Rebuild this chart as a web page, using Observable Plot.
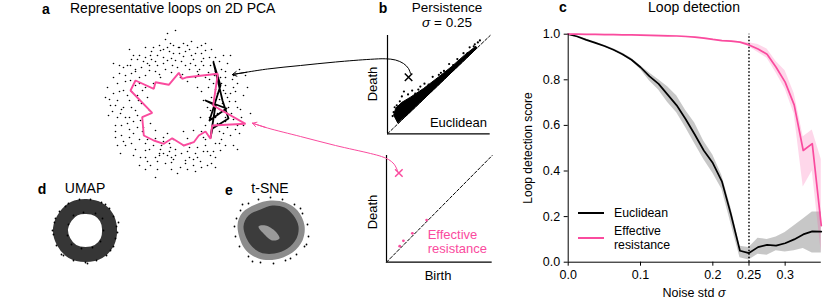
<!DOCTYPE html>
<html><head><meta charset="utf-8">
<script src="https://cdn.jsdelivr.net/npm/d3@7"></script>
<script src="https://cdn.jsdelivr.net/npm/@observablehq/plot@0.6"></script>
<style>
html,body{margin:0;padding:0;background:#fff;}
#fig{position:relative;width:830px;height:302px;overflow:hidden;font-family:"Liberation Sans",Arial,sans-serif;color:#000;}
.p{position:absolute;}
.p svg{overflow:visible;display:block;max-width:none;}
.t{position:absolute;white-space:nowrap;line-height:1;font-size:14px;}
.t i{font-style:italic;line-height:1;}
</style></head><body><div id="fig"></div>
<script>
const PINK = "#fa4b9e";
const FONT = '"Liberation Sans",Arial,sans-serif';

// ---------- Panel c data ----------
const sigma = [0,0.0125,0.025,0.0375,0.05,0.0625,0.075,0.0875,0.1,0.1125,0.125,0.1375,0.15,0.1625,0.175,0.1875,0.2,0.2125,0.225,0.2375,0.25,0.2625,0.275,0.2875,0.3,0.3125,0.325,0.3375,0.35];
const euclid   = [1.0,0.99,0.975,0.962,0.948,0.932,0.912,0.888,0.855,0.815,0.782,0.735,0.688,0.627,0.56,0.49,0.435,0.355,0.21,0.05,0.04,0.066,0.076,0.073,0.083,0.1,0.122,0.135,0.134];
const euclidLo = [1.0,0.988,0.972,0.958,0.944,0.928,0.907,0.882,0.845,0.795,0.755,0.7,0.655,0.59,0.52,0.45,0.39,0.32,0.17,0.02,0.01,0.035,0.03,0.05,0.045,0.05,0.06,0.04,0.04];
const euclidHi = [1.0,0.992,0.978,0.966,0.952,0.936,0.917,0.894,0.862,0.83,0.8,0.77,0.73,0.665,0.61,0.53,0.47,0.38,0.24,0.07,0.065,0.105,0.1,0.11,0.13,0.16,0.19,0.22,0.22];
const effRes   = [1.0,1.0,0.999,0.999,0.998,0.998,0.997,0.997,0.996,0.995,0.994,0.993,0.992,0.99,0.987,0.983,0.977,0.972,0.97,0.965,0.953,0.935,0.912,0.855,0.79,0.69,0.49,0.52,0.16];
const effResLo = [1.0,0.998,0.997,0.997,0.996,0.996,0.995,0.995,0.994,0.993,0.992,0.991,0.99,0.988,0.985,0.981,0.975,0.97,0.968,0.962,0.945,0.92,0.895,0.83,0.76,0.65,0.33,0.40,0.04];
const effResHi = [1.0,1.0,1.0,1.0,1.0,1.0,0.999,0.999,0.998,0.997,0.996,0.995,0.994,0.992,0.989,0.985,0.979,0.974,0.972,0.967,0.962,0.955,0.935,0.88,0.84,0.74,0.55,0.58,0.45];
const xTicks = [0,0.1,0.2,0.25,0.3];
const xTickLabels = ["0.0","0.1","0.2","0.25","0.3"];
const yTicks = [0,0.2,0.4,0.6,0.8,1.0];
const yTickLabels = ["0.0","0.2","0.4","0.6","0.8","1.0"];
const threshold = [0.25];

// ---------- Panel a data (2D PCA, px-like units around centre) ----------
const pcaPts = [
[-5,62],[3,58],[12,60],[-15,55],[20,52],[-25,50],[8,49],[28,47],[-8,45],[-32,44],[15,42],[35,40],[-18,40],[2,38],[24,36],[-40,36],[-2,52],[10,54],[-12,48],[30,55],[-22,58],[40,48],[18,46],[-28,42],[6,44],[-36,50],[26,60],[-10,66],[14,36],[-4,33],[33,33],[-45,40],[44,44],[-20,34],[0,45],[20,40],
[45,28],[50,20],[55,12],[60,4],[48,-6],[58,-14],[52,-22],[62,22],[42,12],[38,22],[65,-4],[47,2],[55,-30],[40,-12],[44,-26],[58,30],[36,8],[62,-20],[50,34],[68,10],[30,28],[35,-5],[53,-2],[42,-18],[48,15],[66,-12],[39,30],[57,26],
[30,-40],[20,-48],[10,-55],[0,-50],[-10,-58],[-20,-52],[-30,-45],[25,-56],[15,-38],[-5,-42],[-15,-44],[35,-50],[5,-62],[-25,-60],[40,-38],[-35,-52],[28,-32],[12,-46],[-2,-34],[18,-60],[-12,-36],[-22,-40],[8,-40],[2,-68],[-8,-50],[32,-60],[22,-42],[-28,-34],[45,-45],[-18,-64],[14,-52],[-4,-57],
[-45,25],[-52,15],[-58,5],[-55,-8],[-48,-18],[-42,-28],[-60,-20],[-38,10],[-35,-15],[-62,12],[-50,30],[-40,-5],[-65,0],[-46,5],[-54,-30],[-36,22],[-44,-38],[-58,22],[-32,-22],[-50,-12],[-67,-10],[-40,34],[-52,-2],[-30,30],[-60,-32],[-48,40],[-34,2],[-56,32],
[22,18],[-22,22],[18,-25],[-25,-18],[28,5],[-28,8],[5,28],[-8,-28],[25,-12],[-20,-25],[12,24],[-26,-5],[30,-20],[-15,28],[8,-26],[26,14],[-30,18],[20,28],[-12,-32],[32,-2],
[-70,8],[72,18],[0,75],[-20,-72],[55,50],[-55,-48],[62,-44],[-62,42],[75,-8],[-8,72],[40,-62],[70,30],
[-3,40],[7,31],[-16,31],[23,31],[33,18],[38,0],[34,-12],[26,-26],[12,-33],[-6,-38],[-20,-33],[-33,-26],[-38,-10],[-37,5],[-33,15],[-26,35],[-12,42],[4,58],[-30,58],[36,56],[52,42],[60,14],[64,-28],[50,-40],[36,-58],[12,-64],[-12,-48],[-36,-60],[-50,-40],[-63,-6],[-56,40],[-42,50],[-16,60],[16,64],[46,36],[44,-4],[28,-46],[-4,-64],[-46,-24],[-44,14],
[-10,36],[16,50],[-24,46],[28,40],[40,34],[46,22],[52,8],[56,-8],[50,-16],[46,-34],[38,-46],[22,-52],[6,-48],[-6,-46],[-18,-56],[-30,-52],[-40,-44],[-46,-32],[-54,-20],[-58,-12],[-60,0],[-56,14],[-50,24],[-44,32],[-34,38],[-20,44],[-6,54],[8,62],[22,58],[34,48],
[-2,60],[14,56],[26,52],[38,44],[50,28],[58,18],[62,-2],[60,-24],[48,-28],[40,-52],[26,-62],[10,-58],[-4,-52],[-16,-50],[-28,-56],[-42,-50],[-52,-36],[-60,-26],[-66,6],[-62,28],[-52,38],[-38,46],[-24,54],[-8,58],
[-40,20],[-44,-2],[-42,-16],[-36,-34],[-26,-44],[-14,-40],[0,-44],[14,-42],[30,-34],[38,-22],[42,-8],[44,6],[40,16],[34,26],[22,34],[10,40],[-4,47],[-18,50],[-30,48],
[-36,28],[-48,10],[-54,-4],[-46,-12],[-38,-22],[-30,-38],[-16,-48],[-2,-54],[18,-54],[32,-46],[44,-38],[50,-12],[54,4],[50,12],[42,28],[26,44],[4,52],[-12,56],[-26,40],[-44,46],[30,62],[48,50],[64,36],[68,-20],[58,-40],[20,-66],[-30,-64],[-58,-40],[-68,18],[-46,56]
];
const pinkLoop = [[-40,25],[-21.7,16.7],[-20,23.3],[-6.7,20.7],[3.3,32.7],[6.7,26.7],[11.7,28.3],[42.3,31.7],[37.7,0],[70,-18.3],[36.7,-20],[35,-33.3],[30,-26],[23.3,-30],[18.3,-36.7],[8.3,-40],[-3.3,-32.7],[-11.7,-38.3],[-21.7,-35],[-31.7,-30],[-33.3,-11.7],[-23.3,-7.3],[-45,15]];
const blackLoop = [[38,43],[47,5],[53,-13],[37,-23],[35,-32],[40,0],[30,5],[51,-3],[34,-15],[45,20],[38,43]];

// ---------- Panel b data ----------
const diag = [[0,0],[1,1]];
const eucCore = [[0.1,0.11],[0.06,0.19],[0.08,0.26],[0.14,0.32],[0.22,0.37],[0.35,0.46],[0.5,0.58],[0.62,0.68],[0.75,0.8],[0.86,0.89],[0.87,0.87],[0.5,0.5],[0.2,0.2]];
const eucPts = [[0.06,0.22],[0.05,0.18],[0.09,0.29],[0.12,0.33],[0.14,0.38],[0.2,0.4],[0.24,0.44],[0.27,0.41],[0.32,0.48],[0.36,0.51],[0.4,0.5],[0.44,0.58],[0.5,0.6],[0.55,0.64],[0.6,0.71],[0.64,0.7],[0.68,0.76],[0.74,0.82],[0.78,0.82],[0.8,0.88],[0.85,0.91],[0.88,0.93],[0.9,0.95],[0.84,0.89],[0.16,0.43],[0.07,0.27],[0.11,0.16],[0.52,0.62],[0.3,0.45],[0.7,0.74]];
const eucMark = [[0.205,0.576]];
const erPts = [[0.125,0.15],[0.16,0.2],[0.245,0.27],[0.38,0.395]];
const erMark = [[0.117,0.836]];

// ---------- Panels d, e data ----------
const umapRing = [[24,2],[21,13],[13,21],[1,24],[-11,22],[-20,14],[-25,2],[-22,-11],[-13,-21],[0,-24],[13,-21],[22,-11]];
const umapEdge = [[31,4],[30,-8],[28,14],[24,22],[16,28],[5,31],[-6,31],[-17,27],[-26,19],[-31,8],[-32,-4],[-29,-15],[-22,-25],[-12,-30],[0,-32],[11,-30],[21,-25],[28,-16],[32,-2],[-30,12],[17,12],[10,17],[-2,18],[-12,15],[-17,6],[-18,-5],[-14,-14],[-4,-18],[7,-17],[15,-11],[18,0],[33,8],[-33,0],[2,-33],[25,-20],[-24,-24],[20,26],[-20,24]];
const tsneOutline = [[-33,5],[-28,18],[-15,26],[0,30],[15,28],[27,20],[34,5],[32,-10],[22,-22],[5,-29],[-12,-28],[-26,-18]];
const tsneCore = [[-27,4],[-22,15],[-10,21],[2,25],[14,23],[23,15],[28,4],[26,-8],[17,-18],[4,-23],[-10,-22],[-21,-13]];
const tsneHole = [[-12,4],[-5,5],[5,-1],[9,-8],[2,-10],[-7,-3]];
const tsneEdge = [[-36,4],[-34,12],[-30,20],[-22,27],[-12,31],[0,33],[12,31],[24,26],[32,17],[37,6],[38,-6],[34,-16],[26,-24],[15,-30],[3,-33],[-10,-32],[-22,-26],[-31,-16],[-35,-6],[-28,26],[30,22],[36,-14],[-18,-31],[20,-28]];

// ---------- connector arrows (figure coordinates) ----------
const arrowEuc = [[410,73],[408,68],[403,63],[395,59.5],[385,58.3],[370,58.8],[335,61.5],[300,65],[267,68.5],[232,74]];
const arrowEr = [[397,170],[393.5,163.5],[388,159],[381,156],[370,153],[335,145],[300,136],[267,127.5],[252,122.7]];
const arrowHeads = [{x1:246,y1:71.8,x2:232,y2:74,c:"#000"},{x1:265,y1:126.9,x2:252,y2:122.7,c:PINK}];

// ---------- helpers ----------
const fig = document.getElementById("fig");
function place(svg, left, top){
  const d = document.createElement("div"); d.className="p";
  d.style.left = left+"px"; d.style.top = top+"px";
  d.appendChild(svg); fig.appendChild(d); return d;
}
function txt(html, x, y, o={}){
  const d = document.createElement("div"); d.className="t"; d.innerHTML = html;
  d.style.left = x+"px"; d.style.top = y+"px";
  if (o.size) d.style.fontSize = o.size+"px";
  if (o.bold) d.style.fontWeight = "bold";
  if (o.color) d.style.color = o.color;
  const ax = o.anchor==="start" ? "0" : o.anchor==="end" ? "-100%" : "-50%";
  d.style.transform = `translate(${ax},-50%)` + (o.rotate ? " rotate(-90deg)" : "");
  fig.appendChild(d);
}
const baseStyle = {fontFamily: FONT, background: "transparent", color: "#000", overflow: "visible"};
const X = d=>d[0], Y = d=>d[1];

// ---------- Panel c ----------
const cData = sigma.map((s,i)=>({s, eu:euclid[i], euLo:euclidLo[i], euHi:euclidHi[i], er:effRes[i], erLo:effResLo[i], erHi:effResHi[i]}));
const pc = Plot.plot({
  width:330, height:302, marginLeft:67.7, marginRight:9.2, marginTop:33.7, marginBottom:40.3,
  style:{...baseStyle, fontSize:"12.5px"},
  x:{domain:[0,0.35], ticks:xTicks, tickFormat:d=>xTickLabels[xTicks.indexOf(d)], tickSize:4, tickPadding:4, label:null},
  y:{domain:[0,1], ticks:yTicks, tickFormat:d=>yTickLabels[yTicks.indexOf(d)], tickSize:4, tickPadding:4, label:null},
  marks:[
    Plot.areaY(cData,{x:"s", y1:"euLo", y2:"euHi", fill:"#000", fillOpacity:0.22}),
    Plot.areaY(cData,{x:"s", y1:"erLo", y2:"erHi", fill:PINK, fillOpacity:0.22}),
    Plot.ruleX(threshold,{y1:0, y2:1, stroke:"#000", strokeWidth:1.5, strokeDasharray:"1.5,2"}),
    Plot.lineY(cData,{x:"s", y:"eu", stroke:"#000", strokeWidth:1.7}),
    Plot.lineY(cData,{x:"s", y:"er", stroke:PINK, strokeWidth:1.7}),
    Plot.ruleX([0],{stroke:"#000"}),
    Plot.ruleY([0],{stroke:"#000"})
  ]
});
place(pc, 500, 0);

// ---------- Panel a ----------
const pa = Plot.plot({
  width:160, height:160, margin:0, style:baseStyle,
  x:{domain:[-80,80], axis:null}, y:{domain:[-80,80], axis:null},
  marks:[
    Plot.dot(pcaPts,{x:X, y:Y, r:0.8, fill:"#000", stroke:null}),
    Plot.line(blackLoop,{x:X, y:Y, stroke:"#000", strokeWidth:1.8, curve:"linear"}),
    Plot.line(pinkLoop,{x:X, y:Y, stroke:PINK, strokeWidth:1.9, curve:"linear-closed", strokeLinejoin:"miter"})
  ]
});
place(pa, 95, 25);

// ---------- Panel b top ----------
const pbt = Plot.plot({
  width:102.7, height:98.3, margin:0, style:baseStyle,
  x:{domain:[0,1], axis:null}, y:{domain:[0,1], axis:null},
  marks:[
    Plot.line(diag,{x:X, y:Y, stroke:"#000", strokeWidth:1, strokeDasharray:"3,2"}),
    Plot.line(eucCore,{x:X, y:Y, fill:"#000", stroke:"#000", strokeWidth:1, curve:"linear-closed"}),
    Plot.dot(eucPts,{x:X, y:Y, r:1.1, fill:"#000", stroke:null}),
    Plot.dot(eucMark,{x:X, y:Y, symbol:"times", r:3.5, stroke:"#000", strokeWidth:1.5}),
    Plot.ruleX([0],{stroke:"#000", strokeWidth:1.2}),
    Plot.ruleY([0],{stroke:"#000", strokeWidth:1.2})
  ]
});
place(pbt, 387.3, 35);

// ---------- Panel b bottom ----------
const pbb = Plot.plot({
  width:105.7, height:106.7, margin:0, style:baseStyle,
  x:{domain:[0,1], axis:null}, y:{domain:[0,1], axis:null},
  marks:[
    Plot.line(diag,{x:X, y:Y, stroke:"#000", strokeWidth:1, strokeDasharray:"3,2"}),
    Plot.dot(erPts,{x:X, y:Y, r:1.4, fill:PINK, stroke:null}),
    Plot.dot(erMark,{x:X, y:Y, symbol:"times", r:3.5, stroke:PINK, strokeWidth:1.5}),
    Plot.ruleX([0],{stroke:"#000", strokeWidth:1.2}),
    Plot.ruleY([0],{stroke:"#000", strokeWidth:1.2})
  ]
});
place(pbb, 386, 155);

// ---------- Panel d (UMAP) ----------
const pd = Plot.plot({
  width:80, height:80, margin:0, style:baseStyle,
  x:{domain:[-40,40], axis:null}, y:{domain:[-40,40], axis:null},
  marks:[
    Plot.line(umapRing,{x:X, y:Y, stroke:"#363636", strokeWidth:15, curve:"catmull-rom-closed"}),
    Plot.dot(umapEdge,{x:X, y:Y, r:0.9, fill:"#000", stroke:null})
  ]
});
place(pd, 45, 190);

// ---------- Panel e (t-SNE) ----------
const pe = Plot.plot({
  width:80, height:80, margin:0, style:baseStyle,
  x:{domain:[-40,40], axis:null}, y:{domain:[-40,40], axis:null},
  marks:[
    Plot.line(tsneOutline,{x:X, y:Y, fill:"#8c8c8c", stroke:"none", curve:"catmull-rom-closed"}),
    Plot.line(tsneCore,{x:X, y:Y, fill:"#3c3c3c", stroke:"none", curve:"catmull-rom-closed"}),
    Plot.line(tsneHole,{x:X, y:Y, fill:"#9a9a9a", stroke:"none", curve:"catmull-rom-closed"}),
    Plot.dot(tsneEdge,{x:X, y:Y, r:0.9, fill:"#000", stroke:null})
  ]
});
place(pe, 230, 190);

// ---------- connector arrows ----------
const ov = Plot.plot({
  width:830, height:302, margin:0, style:baseStyle,
  x:{domain:[0,830], range:[0,830], axis:null}, y:{domain:[0,302], range:[0,302], axis:null},
  marks:[
    Plot.line(arrowEuc,{x:X, y:Y, stroke:"#000", strokeWidth:1, curve:"catmull-rom"}),
    Plot.line(arrowEr,{x:X, y:Y, stroke:PINK, strokeWidth:1, curve:"catmull-rom"}),
    Plot.arrow(arrowHeads,{x1:"x1", y1:"y1", x2:"x2", y2:"y2", stroke:"c", headLength:8, strokeWidth:1})
  ]
});
const ovd = place(ov, 0, 0); ovd.style.pointerEvents = "none";

// ---------- text ----------
txt("a", 46, 8.5, {bold:true});
txt("Representative loops on 2D PCA", 70, 7.5, {anchor:"start"});
txt("b", 383, 8, {bold:true});
txt("Persistence", 447, 7.6, {size:13.5});
txt("<i>σ</i> = 0.25", 447, 22.8, {size:13.5});
txt("Death", 372, 84, {size:13, rotate:true});
txt("Euclidean", 487, 121.7, {size:13, anchor:"end"});
txt("Death", 372, 212, {size:13, rotate:true});
txt("Effective", 427.7, 234, {size:13, anchor:"start", color:PINK});
txt("resistance", 427.7, 247.6, {size:13, anchor:"start", color:PINK});
txt("Birth", 438, 275, {size:13});
txt("c", 563, 7.3, {bold:true});
txt("Loop detection", 694, 7.3);
txt("Loop detection score", 528, 147.5, {size:12, rotate:true});
txt("Noise std <i>σ</i>", 694, 293, {size:12.5});
txt("Euclidean", 614, 212.5, {size:12.3, anchor:"start"});
txt("Effective", 614, 231, {size:12.3, anchor:"start"});
txt("resistance", 614, 244.5, {size:12.3, anchor:"start"});
txt("d", 42, 188.5, {bold:true});
txt("UMAP", 85, 187.5);
txt("e", 229, 189.5, {bold:true});
txt("t-SNE", 270, 187.5);

// legend swatches
[[212.7,"#000"],[238.3,PINK]].forEach(([y,c])=>{
  const d=document.createElement("div"); d.style.cssText=`position:absolute;left:578px;top:${y-0.9}px;width:26px;height:1.8px;background:${c}`;
  fig.appendChild(d);
});
</script></body></html>
